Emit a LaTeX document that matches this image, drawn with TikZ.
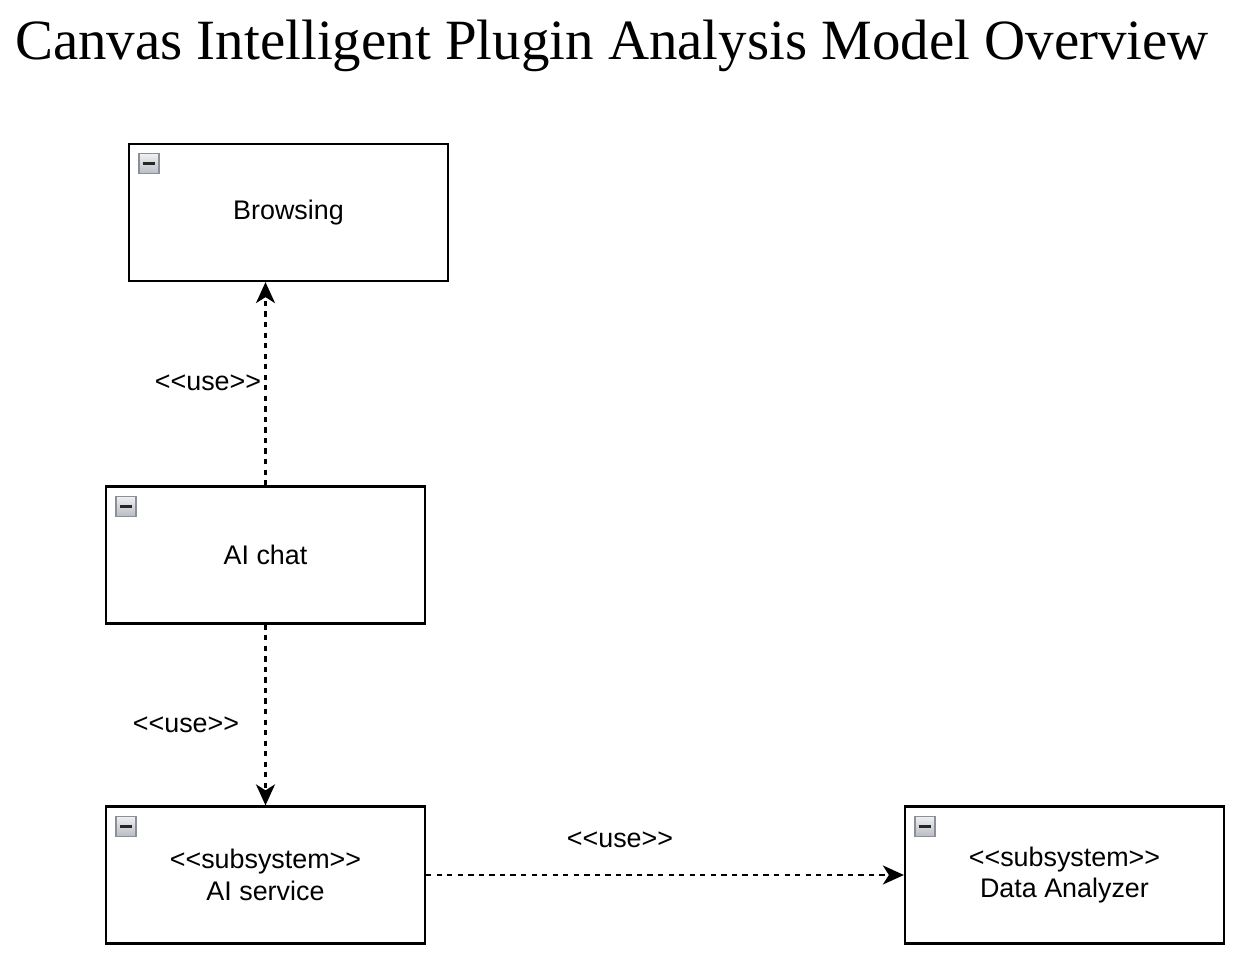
\documentclass[tikz,border=0pt]{standalone}
\usepackage{fontspec}
\setmainfont{Liberation Serif}
\newfontfamily\umlfont{Liberation Sans}
\usetikzlibrary{arrows.meta}

\definecolor{iconfill}{HTML}{B8BCC4}
\definecolor{iconline}{HTML}{8A8F99}

\tikzset{
  umlbox/.style={draw,line width=1.3pt,minimum width=6.38cm,minimum height=2.74cm,
    align=center,font=\umlfont\fontsize{15.3}{18}\selectfont,inner sep=0pt},
  usedep/.style={-{Stealth[length=0.42cm,width=0.38cm,inset=0.12cm]},line width=1.3pt,dash pattern=on 3pt off 3pt},
  uselabel/.style={font=\umlfont\fontsize{15.3}{18}\selectfont}
}
\newcommand{\stereo}[1]{\textless\textless#1\textgreater\textgreater}
\newcommand{\foldicon}[1]{%
  \draw[iconline,top color=gray!12,bottom color=iconfill,line width=0.7pt]
    ([shift={(11,11)}]#1.north west) rectangle ++(20,20);
  \draw[line width=1.8pt,black!85] ([shift={(15,21)}]#1.north west) -- ++(12,0);}

\begin{document}
\begin{tikzpicture}[x=0.02cm,y=-0.02cm]
		\useasboundingbox (0,0) rectangle (1235,953);
		\node [font=\fontsize{32.4}{36}\selectfont,anchor=base] (title) at (612,60) {Canvas Intelligent Plugin Analysis Model Overview};
		% boxes
		\node [umlbox] (browsing) at (288.5,212.5) {Browsing};
		\node [umlbox] (aichat) at (265.5,555) {AI chat};
		\node [umlbox] (aiservice) at (265.5,875) {\stereo{subsystem}\\AI service};
		\node [umlbox] (analyzer) at (1064.5,875) {\stereo{subsystem}\\Data Analyzer};
		\foldicon{browsing}
		\foldicon{aichat}
		\foldicon{aiservice}
		\foldicon{analyzer}
		% dependencies
		\draw[usedep] (aichat.north) -- (aichat.north |- browsing.south);
		\draw[usedep] (aichat.south) -- (aiservice.north);
		\draw[usedep] (aiservice.east) -- (analyzer.west);
		\node [uselabel] (use1) at (208,383) {\stereo{use}};
		\node [uselabel] (use2) at (186,725) {\stereo{use}};
		\node [uselabel] (use3) at (620,840) {\stereo{use}};
\end{tikzpicture}
\end{document}
